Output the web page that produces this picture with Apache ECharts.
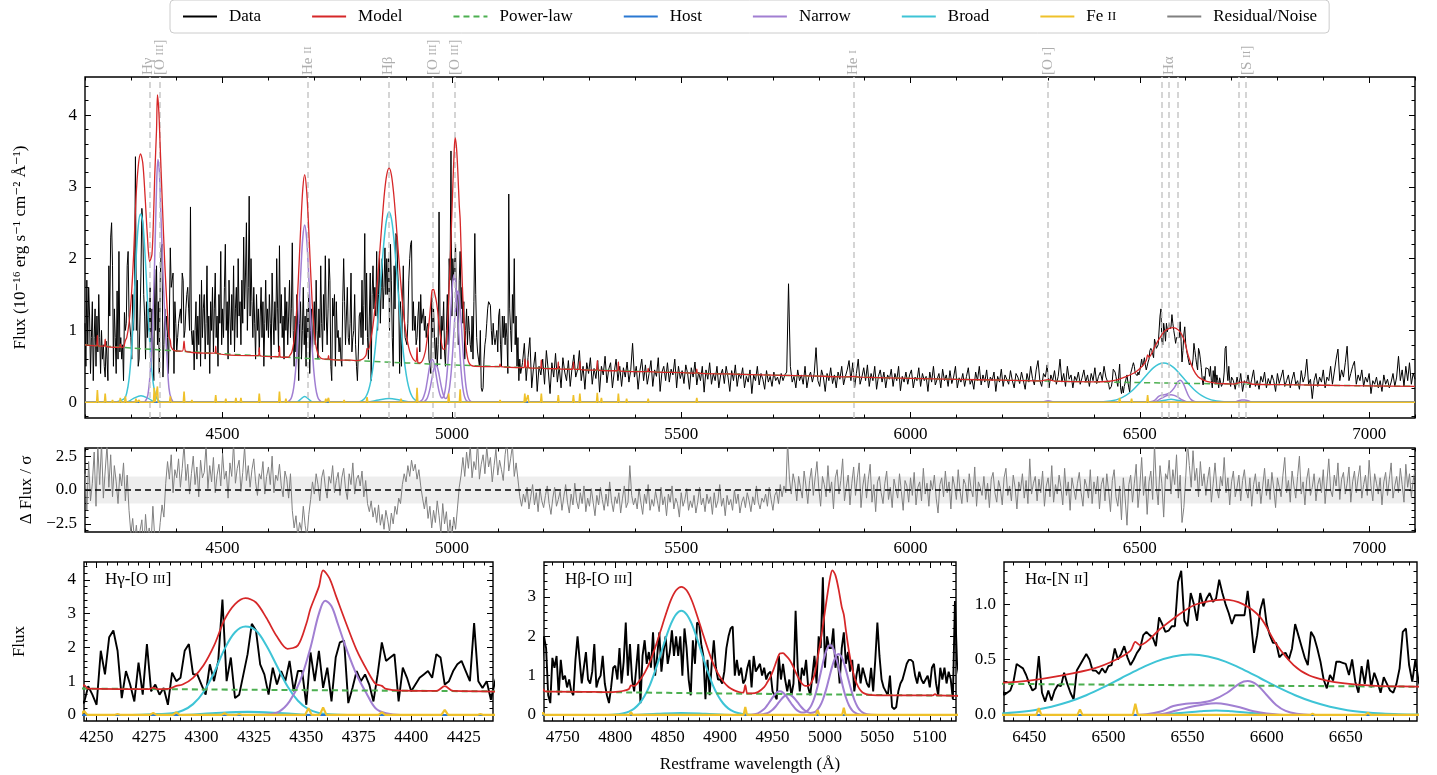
<!DOCTYPE html>
<html><head><meta charset="utf-8">
<script src="https://cdn.jsdelivr.net/npm/echarts@6/dist/echarts.min.js"></script>
<style>html,body{margin:0;padding:0;background:#fff}#c{width:1437px;height:775px}</style>
</head><body><div id="c"></div>
<script>
// ---------- observed spectrum (flux, 1e-16 erg/s/cm2/A) ----------
// 4200..5150 step 2
const fluxBlue = [
1.1,0.5,1.7,0.8,1.6,1.2,0.4,0.9,1.4,0.3,
0.9,1.3,0.5,1.2,0.7,1.5,0.9,0.4,1.0,0.6,
0.8,0.5,0.35,0.85,0.6,0.3,1.9,1.2,2.3,2.5,
1.9,0.5,1.3,0.9,0.4,1.55,0.6,2.1,0.7,0.9,
0.6,0.8,0.3,1.25,1.0,1.1,1.9,2.1,1.2,1.2,
0.9,0.6,1.5,1.0,1.6,3.42,1.0,1.7,0.5,0.6,
1.2,1.8,2.7,2.5,1.5,1.2,0.6,1.4,0.9,1.3,
1.0,1.6,0.7,1.3,1.3,0.3,1.85,1.0,1.9,0.8,
1.4,0.4,1.7,2.15,2.2,0.35,0.8,1.3,1.0,1.2,
0.9,0.4,1.2,2.15,1.6,1.7,1.8,0.4,1.4,1.1,
0.7,0.9,1.1,1.2,1.3,1.1,1.8,1.7,0.9,1.0,
1.3,1.5,1.6,1.3,1.0,2.72,1.0,0.8,1.0,0.45,
1.0,1.4,0.6,1.2,0.8,1.5,0.5,1.7,0.9,1.3,
1.5,0.6,1.1,1.9,0.8,1.2,0.4,1.4,1.0,1.6,
0.7,1.3,1.8,0.9,1.2,0.5,1.5,1.1,2.1,0.8,
1.3,0.9,1.6,2.2,1.0,1.4,0.6,1.7,1.2,0.8,
1.5,1.0,1.9,0.7,1.3,1.6,0.9,2.0,1.2,1.4,
0.8,1.7,1.1,2.3,1.3,1.8,2.5,1.0,1.6,2.87,
1.2,2.0,1.4,0.9,1.6,1.1,0.6,1.5,1.0,1.3,
0.7,1.2,1.6,0.9,1.4,0.5,1.1,1.7,1.0,1.3,
0.9,1.5,1.1,0.6,1.8,1.2,0.8,1.4,1.0,2.0,
1.3,0.7,2.18,1.1,1.5,0.9,1.2,0.6,1.6,1.0,
1.4,0.8,1.2,1.7,0.9,1.3,2.22,1.0,0.5,1.2,
0.7,1.5,0.9,0.3,1.1,1.4,0.6,1.0,1.6,0.8,
1.2,0.5,1.3,0.9,1.5,0.4,1.0,1.3,0.7,1.1,
1.4,0.8,1.7,1.0,0.6,1.3,0.9,1.9,1.1,0.7,
1.5,1.0,2.04,1.2,0.8,1.3,2.0,1.7,0.5,0.3,
1.45,1.2,1.5,0.5,1.4,0.9,1.0,0.7,0.9,0.6,
0.5,1.4,2.0,1.4,0.8,1.2,1.6,0.9,0.8,1.1,
1.8,0.7,0.9,1.0,1.5,0.8,0.5,0.3,0.7,1.2,
1.25,0.9,1.7,0.8,1.35,2.35,1.0,1.8,0.9,0.6,
1.2,1.8,0.3,1.5,1.9,1.3,1.6,1.2,2.1,1.0,
1.5,2.1,1.1,1.6,2.0,1.3,1.6,2.15,1.5,2.0,
1.5,2.0,1.0,2.2,1.7,0.9,0.5,1.9,1.3,2.35,
2.3,1.8,1.5,0.4,1.4,0.5,1.3,1.9,1.2,0.9,
0.9,0.8,1.1,1.7,2.0,2.2,2.25,1.0,1.4,1.0,
1.2,0.8,0.9,1.2,1.4,0.7,1.5,1.1,1.2,1.3,
1.0,1.2,0.9,1.05,1.1,0.6,0.5,0.4,1.5,0.9,
1.3,0.9,0.6,0.9,0.5,0.8,2.65,1.2,0.6,1.2,
1.0,1.4,0.7,0.5,1.0,1.5,0.8,2.0,1.7,3.5,
1.2,2.0,1.7,1.7,2.2,1.2,1.5,0.8,1.7,2.1,
1.3,1.6,1.1,1.4,0.6,1.0,1.3,0.8,1.2,1.0,
0.8,0.7,1.2,0.6,1.4,2.35,1.5,0.9,0.7,0.6,
0.5,1.0,0.2,0.15,0.2,0.6,0.8,0.9,1.1,1.3,
1.4,1.4,1.35,1.0,0.8,1.1,0.9,0.8,0.9,1.0,
0.7,1.2,1.3,0.8,0.5,1.2,0.9,1.2,0.8,1.1,
0.9,0.4,2.9,1.3,1.0,0.7,1.5,1.1,2.0,0.8,
1.2,0.5,0.9,0.3,0.6,0.4];
// 5154..6430 step 4
const fluxMid = [
0.55,0.82,0.3,0.62,0.9,0.2,0.48,0.7,0.15,0.5,
0.38,0.6,0.25,0.72,0.45,0.12,0.55,0.35,0.68,0.28,
0.5,0.2,0.62,0.42,0.3,0.58,0.22,0.48,0.66,0.35,
0.45,0.72,0.3,0.5,0.18,0.55,0.4,0.62,0.25,0.47,
0.33,0.58,0.14,0.5,0.38,0.64,0.27,0.46,0.55,0.2,
0.42,0.6,0.3,0.5,0.22,0.48,0.35,0.56,0.28,0.45,
0.82,0.35,0.5,0.18,0.44,0.6,0.3,0.52,0.25,0.4,
0.58,0.22,0.45,0.36,0.62,0.15,0.42,0.5,0.3,0.55,
0.28,0.46,0.38,0.6,0.2,0.5,0.33,0.44,0.26,0.52,
0.4,0.18,0.48,0.35,0.56,0.24,0.42,0.3,0.5,0.14,
0.45,0.32,0.55,0.25,0.4,0.3,0.5,0.2,0.38,0.46,
0.26,0.5,0.35,0.15,0.44,0.3,0.52,0.22,0.4,0.33,
0.48,0.2,0.36,0.28,0.45,0.12,0.38,0.3,0.5,0.24,
0.4,0.32,0.18,0.44,0.28,0.36,0.22,0.42,0.3,0.35,
0.25,0.4,0.3,0.38,0.42,1.65,0.5,0.28,0.36,0.2,
0.45,0.3,0.38,0.25,0.5,0.2,0.35,0.42,0.28,0.4,
0.76,0.3,0.22,0.45,0.35,0.15,0.4,0.3,0.48,0.26,
0.38,0.2,0.42,0.32,0.5,0.24,0.36,0.45,0.58,0.3,
0.55,0.2,0.4,0.6,0.25,0.35,0.48,0.3,0.52,0.22,
0.4,0.3,0.5,0.18,0.36,0.45,0.28,0.42,0.2,0.38,
0.32,0.46,0.22,0.4,0.3,0.5,0.16,0.36,0.28,0.42,
0.25,0.38,0.45,0.2,0.35,0.3,0.48,0.22,0.4,0.3,
0.36,0.15,0.42,0.28,0.5,0.24,0.32,0.4,0.2,0.46,
0.3,0.38,0.22,0.44,0.26,0.35,0.5,0.2,0.34,0.28,
0.4,0.22,0.36,0.48,0.25,0.32,0.18,0.42,0.3,0.5,
0.24,0.38,0.28,0.45,0.2,0.35,0.3,0.42,0.15,0.36,
0.28,0.46,0.22,0.38,0.32,0.25,0.44,0.3,0.2,0.4,
0.35,0.26,0.42,0.3,0.18,0.4,0.28,0.5,0.33,0.24,
0.45,0.58,0.3,0.22,0.4,0.35,0.52,0.2,0.38,0.3,
0.44,0.25,0.36,0.6,0.28,0.4,0.22,0.5,0.32,0.38,
0.2,0.36,0.3,0.42,0.25,0.34,0.45,0.28,0.38,0.22,
0.4,0.3,0.48,0.26,0.36,0.42,0.3,0.5,0.35,0.28];
// 6432..6700 step 2
const fluxHa = [
0.25,0.18,0.2,0.22,0.3,0.46,0.44,0.42,0.36,0.28,
0.22,0.24,0.53,0.2,0.12,0.22,0.13,0.22,0.27,0.26,
0.38,0.28,0.2,0.14,0.4,0.45,0.5,0.55,0.5,0.4,
0.4,0.37,0.42,0.38,0.44,0.45,0.6,0.5,0.55,0.62,
0.52,0.45,0.5,0.56,0.6,0.72,0.75,0.72,0.7,0.62,
0.88,0.82,0.75,0.76,0.8,0.8,1.2,1.3,0.85,0.8,
1.1,1.0,0.85,1.1,0.98,1.05,1.1,1.02,1.05,1.22,
1.1,1.0,0.92,0.82,0.9,0.9,0.9,0.9,1.12,0.85,
0.56,0.72,0.95,1.05,0.82,0.72,0.65,0.65,0.52,0.55,
0.56,0.5,0.6,0.82,0.72,0.62,0.52,0.45,0.75,0.7,
0.6,0.48,0.32,0.24,0.36,0.31,0.48,0.48,0.47,0.46,
0.36,0.5,0.3,0.2,0.44,0.28,0.5,0.25,0.38,0.3,
0.2,0.34,0.28,0.22,0.2,0.28,0.42,0.75,0.78,0.45,
0.3,0.5,0.3,0.22,0.35];
// 6704..7100 step 4
const fluxRed = [
0.3,0.18,0.35,0.22,0.4,0.15,0.3,0.25,0.38,0.2,
0.32,0.45,0.22,0.3,0.18,0.36,0.28,0.42,0.2,0.33,
0.25,0.38,0.3,0.15,0.4,0.26,0.35,0.45,0.22,0.3,
0.38,0.2,0.32,0.42,0.25,0.3,0.18,0.44,0.28,0.36,
0.6,0.25,0.32,0.05,0.3,0.4,0.22,0.35,0.28,0.45,
0.2,0.35,0.3,0.5,0.25,0.42,0.6,0.74,0.3,0.45,
0.35,0.55,0.78,0.3,0.4,0.5,0.57,0.25,0.38,0.3,
0.45,0.22,0.35,0.28,0.4,0.12,0.3,0.25,0.35,0.2,
0.3,0.15,0.38,0.25,0.32,0.2,0.28,0.4,0.22,0.35,
0.64,0.3,0.45,0.22,0.5,0.3,0.55,0.25,0.4,0.32];

// ---------- residual (data-model)/noise, 4200..7100 step 4 ----------
const residual = [
1.2,-1.5,2.1,-0.8,0.5,2.8,-1.2,3.2,0.4,3.5,
-0.6,1.4,3.3,0.2,2.6,-0.5,1.8,0.6,-1.0,1.2,
0.3,2.0,-0.8,1.1,-1.5,-3.2,-2.1,-3.8,-2.6,-4.2,
-3.0,-2.2,-4.5,-1.8,-3.6,-2.8,-4.0,-1.2,-3.5,-4.8,
-3.9,-2.4,-1.1,-2.0,0.5,2.1,0.8,2.6,-0.2,1.5,
0.9,2.3,0.2,1.6,3.4,0.7,1.9,-0.3,1.2,2.5,
0.4,1.7,-0.5,2.2,0.9,1.3,3.3,0.1,1.8,0.6,
2.4,-0.2,1.1,1.9,0.3,2.7,0.8,1.4,-0.6,2.0,
1.0,3.5,0.5,1.6,2.2,-0.1,1.3,3.2,0.7,1.8,
0.2,1.5,2.3,0.6,-0.4,1.2,0.8,2.1,-0.3,1.0,
1.7,0.4,2.5,-0.2,1.1,0.7,1.9,0.3,-0.5,1.4,
0.8,-0.6,1.2,-1.5,-2.8,-1.9,-3.4,-2.4,-3.0,-1.2,
-2.6,-3.5,-1.8,-0.7,0.6,-0.3,1.2,0.4,-0.8,0.9,
1.5,0.2,-0.6,1.0,0.5,1.8,-0.2,0.7,1.3,-0.4,
0.9,1.6,0.1,-0.7,1.2,0.4,2.0,-0.3,0.8,1.1,
0.3,1.4,-0.5,0.7,-1.0,-1.6,-0.8,-2.0,-1.3,-2.4,
-1.1,-2.6,-1.8,-2.9,-1.5,-2.2,-3.1,-1.7,-2.5,-1.2,
-1.8,-0.6,-1.0,0.4,1.2,0.6,1.8,1.0,2.2,1.4,
1.9,0.8,1.5,0.3,-0.6,-1.4,-0.5,-2.1,-1.2,-2.8,
-1.5,-2.4,-0.8,-1.9,-3.2,-1.0,-2.5,-1.6,-3.4,-2.2,
-3.5,-2.0,-2.9,-1.4,0.2,1.1,2.4,1.0,2.8,1.6,
3.3,0.9,2.1,1.5,3.5,0.8,1.9,2.6,1.2,3.2,
1.7,2.4,0.6,1.8,3.0,1.1,2.2,1.5,0.7,2.6,
3.6,1.4,2.3,3.3,1.0,2.0,0.8,-0.5,-1.2,-0.3,
-0.9,0.2,-1.4,-0.5,0.4,-1.1,-0.2,-1.6,0.1,-0.8,
-1.3,-0.4,0.3,-1.0,-1.8,-0.6,0.2,-1.2,-0.7,-0.1,
-1.5,-0.5,0.4,-0.9,-1.7,-0.3,-1.1,0.5,-0.8,-1.4,
-0.2,-1.0,0.3,-1.6,-0.6,-1.2,0.1,-0.9,-1.9,-0.4,
-1.1,0.2,-0.7,-1.5,-0.3,-1.2,0.6,-0.8,-1.6,-0.5,
-1.0,-0.2,-1.7,-0.6,0.3,-1.3,-0.9,1.8,-0.4,-1.1,
-0.6,-1.4,0.1,-0.9,-1.8,-0.3,-1.0,0.4,-1.5,-0.7,
-1.2,-0.1,-0.8,-1.6,0.2,-1.1,-0.5,-1.9,-0.3,-0.9,
0.3,-1.4,-0.6,-1.0,-2.0,-0.2,-1.2,-0.7,0.1,-1.5,
-0.8,-1.3,-0.4,-1.7,-0.9,0.2,-1.1,-0.6,-1.6,-0.3,
-1.0,-0.5,-1.8,-0.2,-1.3,-0.8,0.4,-1.2,-0.6,-1.9,
-0.4,-1.1,-0.7,-1.5,0.0,-1.0,-0.3,-1.7,-0.9,-0.5,
-1.3,-0.2,-0.8,-1.6,-0.5,-1.1,0.3,-0.9,-1.4,-0.6,
-0.9,-0.3,-1.2,0.2,-0.7,-1.5,-0.4,-0.1,-1.0,0.4,
-0.5,0.3,-0.2,3.6,0.8,-0.3,1.2,0.5,-0.8,1.0,
0.2,-0.6,1.4,0.3,-1.0,0.7,1.6,-0.4,0.9,2.1,
0.1,-1.2,1.0,0.4,-0.5,1.8,-0.2,0.6,-1.4,0.9,
1.5,-0.3,0.7,2.3,-0.8,0.2,1.1,-1.1,0.5,1.7,
-0.4,0.9,2.0,-1.3,0.3,1.2,-0.6,0.8,1.9,-0.9,
0.4,-1.6,0.6,1.0,-0.2,-1.0,0.5,1.4,-0.7,0.2,
-1.3,0.8,0.1,-0.6,1.2,-0.1,-1.5,0.7,0.3,-0.9,
0.9,-0.4,1.3,-1.1,0.2,0.6,-0.8,1.6,-0.3,0.5,
-1.2,0.7,0.0,1.1,-0.6,-1.7,0.4,0.9,-0.5,1.4,
-0.2,0.6,-1.4,1.0,0.3,-0.7,1.5,-0.1,-1.0,0.8,
0.4,-0.9,1.2,0.1,-0.5,1.7,-1.2,0.6,0.2,-0.4,
1.0,-0.7,0.5,-1.3,0.8,1.3,-0.2,-0.9,0.7,0.1,
-1.1,0.9,1.6,-0.4,0.3,-0.8,1.1,0.2,-1.4,0.6,
0.0,1.2,-0.6,0.7,-1.0,2.3,-0.3,0.5,1.0,-0.8,
0.8,-0.2,1.4,-1.2,0.3,0.9,-0.5,1.8,-0.9,0.4,
-0.3,1.1,0.2,-1.1,1.6,-0.4,0.6,-1.5,0.9,0.1,
-0.7,0.5,1.3,-0.2,-1.2,0.8,0.3,-0.6,1.5,-1.0,
0.6,-0.3,1.0,-1.4,0.4,0.9,-0.8,1.2,-0.1,-1.6,
0.7,1.5,-0.5,-1.2,0.3,-2.2,0.9,-0.6,-2.6,0.4,
1.1,-0.9,0.5,1.9,-1.3,0.2,2.4,-0.4,1.0,-1.8,
0.6,1.4,-0.7,3.4,0.3,-1.1,1.8,0.5,-2.0,1.2,
0.8,2.2,-0.3,1.5,0.4,2.6,-0.6,1.1,-2.4,-1.3,
0.9,3.5,1.8,0.2,2.9,0.7,1.6,-0.5,2.1,0.3,
1.2,-0.4,0.8,1.7,-0.9,0.5,2.0,0.1,-0.6,1.0,
0.3,2.4,-0.2,0.9,-1.1,0.6,1.4,-0.5,0.2,1.1,
-0.8,0.7,1.5,0.0,-0.6,0.9,-1.2,0.4,1.2,-0.3,
0.6,-1.0,0.3,1.6,-0.4,0.8,-0.7,1.3,0.1,-1.3,
0.9,0.2,-0.5,1.1,2.4,-0.2,0.7,-0.9,1.4,0.3,
-0.6,1.0,2.5,-0.3,0.6,-1.1,0.8,1.6,-0.4,0.2,
1.2,-0.8,0.4,0.9,-0.2,1.5,-1.0,0.6,2.3,0.0,
-0.5,1.1,0.3,2.0,-0.7,0.8,1.3,-0.3,0.5,1.7,
-0.9,0.6,1.4,-0.2,0.9,1.8,-0.6,0.4,1.1,-0.4,
2.2,0.3,-0.8,1.2,0.5,-0.3,0.9,-1.1,0.6,1.3,
-0.4,0.8,2.0,-0.6,0.3,1.0,-0.2,1.6,0.4,-0.9,
1.9,0.2,1.2,-0.5,0.7,1.4];

// ---------- model components [wavelength, flux] ----------
const plWave = [4200,4300,4400,4500,4600,4700,4800,4900,5000,5100,5200,5300,5400,5500,5600,5700,5800,5900,6000,6100,6200,6300,6400,6500,6600,6700,6800,6900,7000,7100];
const plFlux = [0.800,0.755,0.714,0.675,0.640,0.607,0.576,0.547,0.521,0.496,0.473,0.451,0.431,0.412,0.394,0.377,0.362,0.347,0.333,0.319,0.307,0.295,0.284,0.273,0.263,0.254,0.245,0.236,0.228,0.220];

const modelPts = [[4200,0.80],[4225,0.785],[4227,0.93],[4229,0.785],[4242,0.78],[4244,0.88],[4246,0.778],[4275,0.765],[4277,0.81],[4279,0.765],[4284,0.77],[4288,0.86],[4291,0.9],[4296,1.1],[4301,1.47],[4306,2.05],[4311,2.82],[4316,3.28],[4321,3.46],[4326,3.33],[4331,2.87],[4336,2.32],[4341,1.96],[4346,2.06],[4350,2.7],[4352,3.15],[4356,3.8],[4358,4.28],[4361,4.05],[4364,3.55],[4369,2.71],[4374,1.92],[4379,1.32],[4383,0.92],[4386,0.86],[4388,0.77],[4395,0.717],[4412,0.711],[4416,0.85],[4420,0.709],[4483,0.683],[4485,0.78],[4487,0.682],[4578,0.648],[4580,0.76],[4582,0.647],[4622,0.633],[4624,0.78],[4626,0.632],[4643,0.626],[4647,0.655],[4651,0.70],[4655,0.82],[4659,1.05],[4663,1.44],[4667,1.96],[4671,2.52],[4675,2.98],[4679,3.17],[4683,2.97],[4687,2.52],[4691,1.96],[4695,1.43],[4699,1.04],[4703,0.81],[4707,0.69],[4711,0.635],[4718,0.603],[4729,0.599],[4731,0.65],[4733,0.598],[4780,0.585],[4793,0.579],[4803,0.594],[4808,0.614],[4813,0.66],[4815,0.75],[4818,0.737],[4823,0.87],[4828,1.07],[4833,1.35],[4838,1.71],[4843,2.12],[4848,2.54],[4853,2.92],[4858,3.17],[4863,3.26],[4868,3.17],[4873,2.91],[4878,2.53],[4883,2.11],[4888,1.70],[4893,1.33],[4898,1.05],[4903,0.85],[4908,0.71],[4913,0.63],[4918,0.583],[4922,0.567],[4924,0.76],[4926,0.55],[4930,0.546],[4936,0.58],[4942,0.705],[4945,0.83],[4948,0.97],[4951,1.16],[4954,1.38],[4957,1.56],[4960,1.57],[4963,1.5],[4966,1.41],[4969,1.27],[4972,1.09],[4975,0.93],[4978,0.80],[4981,0.74],[4984,0.74],[4987,0.82],[4990,1.02],[4993,1.45],[4996,1.9],[4999,2.45],[5002,3.0],[5005,3.5],[5007,3.68],[5010,3.55],[5013,3.2],[5016,2.75],[5018,2.55],[5020,2.15],[5023,1.6],[5026,1.18],[5029,0.88],[5032,0.70],[5035,0.59],[5038,0.54],[5042,0.512],[5050,0.50],[5103,0.497],[5105,0.53],[5107,0.495],[5157,0.482],[5159,0.6],[5161,0.481],[5164,0.48],[5166,0.58],[5168,0.479],[5193,0.474],[5195,0.59],[5197,0.473],[5230,0.466],[5232,0.56],[5234,0.465],[5263,0.459],[5265,0.56],[5267,0.458],[5277,0.456],[5279,0.57],[5281,0.455],[5315,0.448],[5317,0.58],[5319,0.447],[5361,0.438],[5363,0.56],[5365,0.437],[5426,0.426],[5428,0.47],[5430,0.425],[5500,0.412],[5532,0.406],[5534,0.46],[5536,0.405],[5600,0.394],[5700,0.377],[5800,0.362],[5860,0.352],[5876,0.358],[5892,0.349],[6000,0.333],[6100,0.319],[6200,0.307],[6285,0.297],[6300,0.315],[6315,0.293],[6400,0.284],[6434,0.292],[6450,0.31],[6470,0.355],[6491,0.42],[6505,0.5],[6514,0.58],[6517,0.66],[6520,0.63],[6533,0.78],[6544,0.9],[6554,0.99],[6563,1.025],[6573,1.04],[6585,1.0],[6596,0.88],[6606,0.64],[6617,0.45],[6627,0.355],[6638,0.31],[6648,0.286],[6669,0.262],[6694,0.256],[6705,0.253],[6715,0.27],[6722,0.28],[6729,0.28],[6736,0.27],[6746,0.25],[6800,0.245],[6900,0.236],[7000,0.228],[7100,0.22]];

const broadPts = [[4200,0],[4265,0],[4276,0.02],[4286,0.05],[4291,0.13],[4296,0.32],[4301,0.68],[4306,1.25],[4311,1.95],[4316,2.45],[4321,2.62],[4326,2.5],[4331,2.05],[4336,1.45],[4341,0.85],[4346,0.42],[4351,0.17],[4356,0.06],[4361,0.02],[4370,0],[4660,0],[4670,0.04],[4679,0.08],[4688,0.04],[4698,0],[4793,0],[4803,0.018],[4808,0.04],[4813,0.083],[4818,0.16],[4823,0.29],[4828,0.49],[4833,0.76],[4838,1.12],[4843,1.52],[4848,1.94],[4853,2.31],[4858,2.56],[4863,2.65],[4868,2.56],[4873,2.31],[4878,1.94],[4883,1.52],[4888,1.12],[4893,0.76],[4898,0.49],[4903,0.29],[4908,0.16],[4913,0.083],[4918,0.04],[4923,0.018],[4933,0],[6390,0],[6408,0.003],[6420,0.006],[6431,0.012],[6442,0.024],[6453,0.043],[6464,0.074],[6475,0.118],[6486,0.177],[6497,0.25],[6508,0.331],[6519,0.411],[6530,0.481],[6541,0.528],[6552,0.545],[6563,0.528],[6574,0.481],[6585,0.411],[6596,0.331],[6607,0.25],[6618,0.177],[6629,0.118],[6640,0.074],[6651,0.043],[6662,0.024],[6673,0.012],[6684,0.006],[6695,0.003],[6715,0],[7100,0]];
const broadSmallPts = [[4200,0],[4290,0],[4305,0.05],[4322,0.09],[4339,0.05],[4354,0],[4815,0],[4840,0.03],[4863,0.05],[4886,0.03],[4911,0],[6530,0],[6545,0.016],[6558,0.032],[6568,0.04],[6578,0.032],[6591,0.016],[6606,0],[7100,0]];

const narrow1Pts = [[4200,0],[4325,0],[4331,0.01],[4337,0.1],[4342,0.4],[4347,1.0],[4352,2.0],[4356,3.0],[4359,3.38],[4362,3.22],[4365,2.7],[4369,1.98],[4374,1.19],[4379,0.6],[4383,0.2],[4388,0.05],[4395,0],[4640,0],[4647,0.03],[4651,0.08],[4655,0.2],[4659,0.43],[4663,0.81],[4667,1.32],[4671,1.87],[4675,2.30],[4679,2.47],[4683,2.30],[4687,1.87],[4691,1.32],[4695,0.81],[4699,0.43],[4703,0.2],[4707,0.08],[4711,0.03],[4718,0],[4925,0],[4930,0.007],[4936,0.04],[4942,0.149],[4945,0.247],[4948,0.364],[4951,0.48],[4954,0.568],[4957,0.6],[4960,0.568],[4963,0.48],[4966,0.364],[4969,0.247],[4972,0.151],[4975,0.088],[4978,0.06],[4981,0.069],[4984,0.124],[4987,0.243],[4990,0.444],[4993,0.732],[4996,1.08],[4999,1.426],[5002,1.684],[5005,1.78],[5008,1.684],[5011,1.426],[5014,1.08],[5017,0.732],[5020,0.443],[5023,0.24],[5026,0.117],[5029,0.052],[5032,0.02],[5037,0.003],[5042,0],[6285,0],[6300,0.02],[6315,0],[6515,0],[6524,0.005],[6533,0.03],[6541,0.08],[6549,0.1],[6558,0.11],[6566,0.135],[6575,0.2],[6583,0.285],[6588,0.305],[6594,0.27],[6600,0.18],[6606,0.09],[6612,0.036],[6619,0.01],[6628,0],[6705,0],[6715,0.02],[6722,0.03],[6729,0.03],[6736,0.02],[6746,0],[7100,0]];
const narrow2Pts = [[4200,0],[4935,0],[4938,0.006],[4941,0.015],[4944,0.034],[4947,0.07],[4950,0.13],[4953,0.214],[4956,0.316],[4959,0.417],[4962,0.492],[4965,0.52],[4968,0.492],[4971,0.417],[4974,0.316],[4977,0.214],[4980,0.132],[4983,0.076],[4986,0.051],[4989,0.06],[4992,0.108],[4995,0.211],[4998,0.386],[5001,0.637],[5004,0.941],[5007,1.242],[5010,1.466],[5013,1.55],[5016,1.466],[5019,1.242],[5022,0.941],[5025,0.637],[5028,0.386],[5031,0.209],[5034,0.102],[5037,0.045],[5040,0.017],[5045,0.003],[5050,0],[6525,0],[6533,0.005],[6543,0.04],[6553,0.075],[6561,0.097],[6568,0.105],[6575,0.095],[6583,0.07],[6591,0.035],[6600,0.012],[6608,0.002],[6615,0],[7100,0]];
const hostPts = [[4200,0],[7100,0]];

const feiiWave = [4227,4244,4260,4277,4288,4311,4318,4351,4358,4386,4416,4433,4485,4507,4529,4540,4580,4624,4638,4725,4731,4765,4815,4889,4924,4993,5018,5105,5159,5166,5195,5232,5265,5279,5317,5326,5363,5381,5428,5534,5748,5992,6152,6250,6421,6456,6482,6517,6629,6664];
const feiiHeight = [0.17,0.12,0.03,0.06,0.08,0.05,0.03,0.2,0.22,0.08,0.15,0.03,0.1,0.05,0.06,0.06,0.12,0.15,0.05,0.05,0.06,0.03,0.07,0.05,0.2,0.12,0.18,0.03,0.12,0.1,0.12,0.1,0.1,0.12,0.13,0.06,0.12,0.05,0.05,0.06,0.02,0.02,0.02,0.02,0.02,0.06,0.05,0.1,0.01,0.02];

// ---------- emission line markers ----------
const lineWave = [4340.5,4363.2,4685.7,4861.3,4958.9,5006.8,5875.6,6300.3,6548.1,6562.8,6583.5,6716.4,6730.8];
const lineLabelWave = [4337,4363.2,4685.7,4861.3,4958.9,5006.8,5875.6,6300.3,6562.8,6733];
const lineLabelText = ['Hγ','[O III]','He II','Hβ','[O III]','[O III]','He I','[O I]','Hα','[S II]'];

// ---------- tick values ----------
const mainXTicks = [4500,5000,5500,6000,6500,7000];
const mainYTicks = [0,1,2,3,4];
const residYTicks = [-2.5,0,2.5];
const p1XTicks = [4250,4275,4300,4325,4350,4375,4400,4425];
const p1YTicks = [0,1,2,3,4];
const p2XTicks = [4750,4800,4850,4900,4950,5000,5050,5100];
const p2YTicks = [0,1,2,3];
const p3XTicks = [6450,6500,6550,6600,6650];
const p3YTicks = [0,0.5,1.0];

// ---------- build ----------
function onGrid(start, step, arr){ return arr.map((v,i)=>[Math.round((start+i*step)*10)/10, v]); }
const dataPts = [].concat(onGrid(4200,2,fluxBlue), onGrid(5154,4,fluxMid), onGrid(6432,2,fluxHa), onGrid(6704,4,fluxRed));
const residPts = onGrid(4200,4,residual);
const plPts = plWave.map((w,i)=>[w, plFlux[i]]);
const feiiPts = [[4200,0]];
feiiWave.forEach((w,i)=>{ feiiPts.push([w-1.6,0],[w,feiiHeight[i]],[w+1.6,0]); });
feiiPts.push([7100,0]);

function steps(a,b,s){ const r=[]; for(let v=a; v<=b+1e-9; v+=s) r.push(Math.round(v*1000)/1000); return r; }

const FONT = "'Liberation Serif','DejaVu Serif',serif";
const FS = 17;
const C = {data:'#000000', model:'#d62728', pl:'#4caf50', host:'#2a78d2', narrow:'#a17fd2', broad:'#3ec4d6', feii:'#efc12a', resid:'#808080'};
const grids=[], xAxes=[], yAxes=[], series=[];

function panel(g, xr, yr, xMaj, xMin, yMaj, yMin, xFmt, yFmt, xName, yName, yNameGap){
  const gi = grids.length;
  grids.push(Object.assign({show:true, borderColor:'#000', borderWidth:1.4, backgroundColor:'rgba(0,0,0,0)'}, g));
  const base = {gridIndex:gi, type:'value', splitLine:{show:false}, axisLine:{show:false, onZero:false}};
  const tick = (v,len)=>({show:true, inside:true, length:len, customValues:v, lineStyle:{color:'#000', width:1}});
  const lab = (v,f)=>({show:true, customValues:v, formatter:f, fontFamily:FONT, fontSize:FS, color:'#000', margin:8});
  const nameStyle = {fontFamily:FONT, fontSize:FS, color:'#000'};
  const xi = xAxes.length;
  const xb = Object.assign({}, base, {min:xr[0], max:xr[1]});
  xAxes.push(Object.assign({}, xb, {position:'bottom', axisTick:tick(xMaj,6), axisLabel:lab(xMaj,xFmt)},
    xName ? {name:xName, nameLocation:'middle', nameGap:35, nameTextStyle:nameStyle} : {}));
  xAxes.push(Object.assign({}, xb, {position:'bottom', axisTick:tick(xMin,3.5), axisLabel:{show:false}}));
  xAxes.push(Object.assign({}, xb, {position:'top', axisTick:tick(xMaj,6), axisLabel:{show:false}}));
  xAxes.push(Object.assign({}, xb, {position:'top', axisTick:tick(xMin,3.5), axisLabel:{show:false}}));
  const yi = yAxes.length;
  const yb = Object.assign({}, base, {min:yr[0], max:yr[1]});
  yAxes.push(Object.assign({}, yb, {position:'left', axisTick:tick(yMaj,6), axisLabel:lab(yMaj,yFmt)},
    yName ? {name:yName, nameLocation:'middle', nameGap:yNameGap, nameRotate:90, nameTextStyle:nameStyle} : {}));
  yAxes.push(Object.assign({}, yb, {position:'left', axisTick:tick(yMin,3.5), axisLabel:{show:false}}));
  yAxes.push(Object.assign({}, yb, {position:'right', axisTick:tick(yMaj,6), axisLabel:{show:false}}));
  yAxes.push(Object.assign({}, yb, {position:'right', axisTick:tick(yMin,3.5), axisLabel:{show:false}}));
  return {xi, yi};
}
const intFmt = v => String(Math.round(v));
const oneDec = v => (v<0?'\u2212':'') + Math.abs(v).toFixed(1);

const pMain = panel({left:85, right:22, top:77, height:341}, [4200,7100], [-0.22,4.53], mainXTicks, steps(4200,7100,100), mainYTicks, steps(-0.2,4.4,0.2), intFmt, intFmt, null, 'Flux (10\u207B\u00B9\u2076 erg s\u207B\u00B9 cm\u207B\u00B2 \u00C5\u207B\u00B9)', 56);
const pRes = panel({left:85, right:22, top:448, height:84}, [4200,7100], [-3.1,3.1], mainXTicks, steps(4200,7100,100), residYTicks, steps(-3,3,0.5), intFmt, oneDec, null, '\u0394 Flux / \u03C3', 50);
const p1 = panel({left:84, width:409, top:562, height:159}, [4244,4439], [-0.18,4.53], p1XTicks, steps(4245,4435,5), p1YTicks, steps(0,4.4,0.2), intFmt, intFmt, null, 'Flux', 56);
const p2 = panel({left:544, width:412, top:562, height:159}, [4732,5125], [-0.155,3.89], p2XTicks, steps(4740,5120,10), p2YTicks, steps(0,3.8,0.2), intFmt, intFmt, 'Restframe wavelength (\u00C5)', null, 0);
const p3 = panel({left:1004, width:413, top:562, height:159}, [6434,6695], [-0.055,1.38], p3XTicks, steps(6440,6690,10), p3YTicks, steps(0,1.3,0.1), intFmt, v=>v.toFixed(1), null, null, 0);

function line(name, data, p, color, width, extra){
  return Object.assign({type:'line', name, data, xAxisIndex:p.xi, yAxisIndex:p.yi, symbol:'none', showSymbol:false, clip:true,
    lineStyle:{color, width}, itemStyle:{color}, emphasis:{disabled:true}, silent:true, animation:false}, extra||{});
}
function addSet(p, k, kd){
  series.push(line('Data', dataPts, p, C.data, kd, {z:2}));
  series.push(line('Broad', broadPts, p, C.broad, 1.5*k, {smooth:0.35, z:3}));
  series.push(line('Broad', broadSmallPts, p, C.broad, 1.5*k, {smooth:0.35, z:3}));
  series.push(line('Narrow', narrow1Pts, p, C.narrow, 1.5*k, {smooth:0.35, z:3}));
  series.push(line('Narrow', narrow2Pts, p, C.narrow, 1.5*k, {smooth:0.35, z:3}));
  series.push(line('Host', hostPts, p, C.host, 1.5*k, {z:3}));
  series.push(line('Power-law', plPts, p, C.pl, 1.5*k, {smooth:0.3, z:4, lineStyle:{color:C.pl, width:1.5*k, type:[6,4]}}));
  series.push(line('Model', modelPts, p, C.model, 1.3*k, {smooth:0.3, z:5}));
  series.push(line('Fe II', feiiPts, p, C.feii, 1.6*k, {z:6}));
}
addSet(pMain, 1, 1);
// dashed line markers in main panel
series.push(line('markers', [[4200,-1],[7100,-1]], pMain, '#fff', 0, {z:1, markLine:{silent:true, symbol:'none', animation:false,
  lineStyle:{color:'#c8c8c8', width:1.5, type:[6,4]}, label:{show:false}, data: lineWave.map(w=>({xAxis:w}))}}));
addSet(p1, 1.35, 1.9); addSet(p2, 1.35, 1.9); addSet(p3, 1.35, 1.9);
series.push(line('Residual/Noise', residPts, pRes, C.resid, 1, {z:3,
  markArea:{silent:true, itemStyle:{color:'rgba(0,0,0,0.065)'}, data:[[{yAxis:-1},{yAxis:1}]]},
  markLine:{silent:true, symbol:'none', animation:false, lineStyle:{color:'#000', width:1.5, type:[6,4]}, label:{show:false}, data:[{yAxis:0}]}}));

// line label strip above main panel
const gLab = grids.length;
grids.push({left:85, right:22, top:28, height:47, show:false});
const xLab = xAxes.length; xAxes.push({gridIndex:gLab, type:'value', min:4200, max:7100, show:false});
const yLab = yAxes.length; yAxes.push({gridIndex:gLab, type:'value', min:0, max:1, show:false});
const smallCaps = s => s.replace(/ (I{1,3})(\]?)$/, ' {s|$1}$2');
series.push({type:'scatter', name:'labels', xAxisIndex:xLab, yAxisIndex:yLab, silent:true, animation:false,
  data: lineLabelWave.map(w=>[w,0]), symbolSize:0.1, itemStyle:{color:'rgba(0,0,0,0)'},
  label:{show:true, position:'inside', rotate:90, align:'left', verticalAlign:'middle',
    formatter: p => smallCaps(lineLabelText[p.dataIndex]), fontFamily:FONT, fontSize:15, color:'#9a9a9a',
    rich:{s:{fontFamily:FONT, fontSize:11, color:'#9a9a9a'}}}});

const titleStyle = {fontFamily:FONT, fontSize:FS, fontWeight:'normal', color:'#000', rich:{s:{fontFamily:FONT, fontSize:13, color:'#000'}}};
const option = {
  animation:false, backgroundColor:'#fff',
  grid: grids, xAxis: xAxes, yAxis: yAxes, series,
  title: [
    {text:'H\u03B3-[O {s|III}]', left:100, top:566, textStyle:titleStyle},
    {text:'H\u03B2-[O {s|III}]', left:560, top:566, textStyle:titleStyle},
    {text:'H\u03B1-[N {s|II}]', left:1020, top:566, textStyle:titleStyle}
  ],
  legend: {left:170, top:0, itemWidth:34, itemHeight:12, itemGap:50, padding:[8,12],
    borderColor:'#cccccc', borderWidth:1, borderRadius:4, backgroundColor:'#fff',
    itemStyle:{opacity:0},
    data:['Data','Model','Power-law','Host','Narrow','Broad','Fe II','Residual/Noise'],
    formatter: n => n==='Fe II' ? 'Fe {s|II}' : n,
    textStyle:{fontFamily:FONT, fontSize:FS, color:'#000', padding:[0,0,0,7], rich:{s:{fontFamily:FONT, fontSize:13, color:'#000'}}}}
};
const chart = echarts.init(document.getElementById('c'));
chart.setOption(option);
</script>
</body></html>
